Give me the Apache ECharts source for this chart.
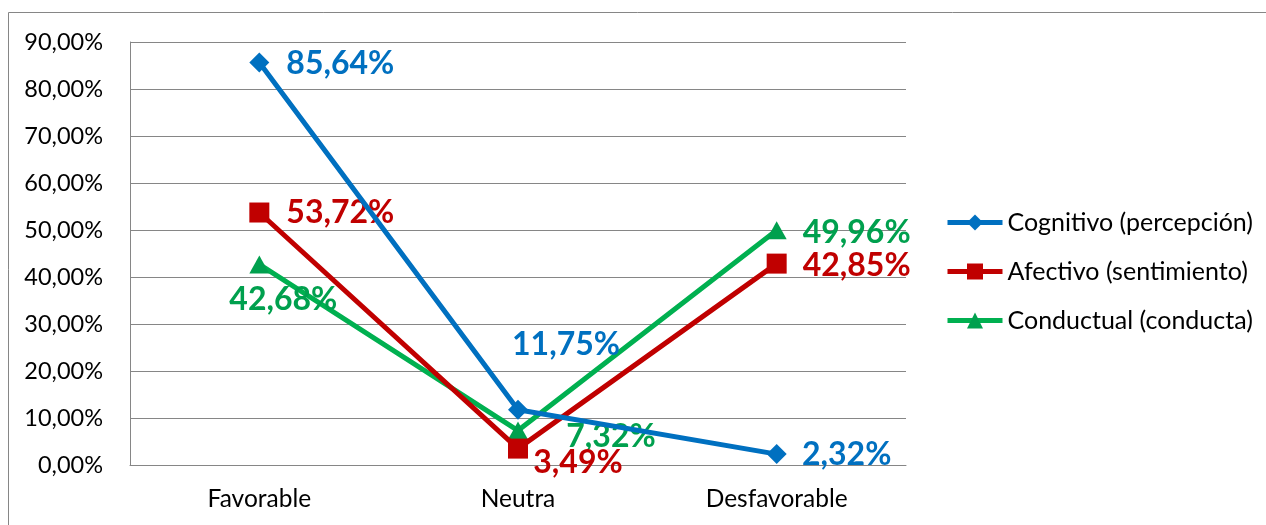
<!DOCTYPE html>
<html><head><meta charset="utf-8">
<script src="https://cdn.jsdelivr.net/npm/echarts@6/dist/echarts.min.js"></script>
<style>html,body{margin:0;padding:0;background:#fff}#c{width:1266px;height:525px}</style>
</head><body><div id="c"></div>
<script>
var categories = ['Favorable', 'Neutra', 'Desfavorable'];
var seriesNames = ['Cognitivo (percepción)', 'Afectivo (sentimiento)', 'Conductual (conducta)'];
var cognitivo = [85.64, 11.75, 2.32];
var afectivo = [53.72, 3.49, 42.85];
var conductual = [42.68, 7.32, 49.96];
var yTicks = [0, 10, 20, 30, 40, 50, 60, 70, 80, 90];

// label offsets (styling), per series per point
var labelOffsets = [
  [[81, 1], [48, -65], [70, 1]],
  [[81, 0], [60, 14], [80, 2]],
  [[24, 35], [93, 6], [80, 2]]
];
var lineColors = ['#0070C0', '#C00000', '#00B050'];
var markColors = ['#0070C0', '#C00000', '#00A04E'];
var labelColors = ['#0070C0', '#C00000', '#00A04E'];
var symbols = ['diamond', 'rect', 'triangle'];
var symbolSizes = [[20, 20], [20, 20], [20, 18]];
var values = [cognitivo, afectivo, conductual];

function fmt(v) { return v.toFixed(2).replace('.', ',') + '%'; }

var chart = echarts.init(document.getElementById('c'), null, {renderer: 'canvas'});
var series = values.map(function (vals, i) {
  return {
    name: seriesNames[i],
    type: 'line',
    data: vals.map(function (v, j) {
      return {
        value: v,
        label: {position: 'inside', offset: labelOffsets[i][j]}
      };
    }),
    symbol: symbols[i],
    symbolSize: symbolSizes[i],
    lineStyle: {color: lineColors[i], width: 5},
    itemStyle: {color: markColors[i]},
    color: lineColors[i],
    z: 3 - i,
    label: {
      show: true,
      formatter: function (p) { return fmt(p.value); },
      color: labelColors[i],
      fontFamily: 'Lato',
      fontWeight: 'bold',
      fontSize: 32
    },
    emphasis: {disabled: true},
    animation: false
  };
});

chart.setOption({
  animation: false,
  graphic: [{
    type: 'rect',
    shape: {x: 8.5, y: 12.5, width: 1300, height: 600},
    style: {fill: null, stroke: '#868686', lineWidth: 1},
    silent: true
  }],
  grid: {left: 130, right: 360, top: 42, bottom: 60, containLabel: false},
  legend: {
    orient: 'vertical',
    left: 940,
    top: 205,
    itemWidth: 55,
    itemHeight: 20,
    itemGap: 24,
    lineStyle: {width: 5},
    textStyle: {fontFamily: 'Lato', fontSize: 25, color: '#000'},
    data: seriesNames,
    selectedMode: false
  },
  xAxis: {
    type: 'category',
    data: categories,
    boundaryGap: true,
    axisLine: {lineStyle: {color: '#868686', width: 1}},
    axisTick: {show: false},
    axisLabel: {fontFamily: 'Lato', fontSize: 24.5, color: '#000', margin: 22}
  },
  yAxis: {
    type: 'value',
    min: yTicks[0],
    max: yTicks[yTicks.length - 1],
    interval: 10,
    axisLine: {show: true, lineStyle: {color: '#868686', width: 1}},
    axisTick: {show: false},
    splitLine: {lineStyle: {color: '#868686', width: 1}},
    axisLabel: {
      fontFamily: 'Lato', fontSize: 23.5, color: '#000', margin: 27,
      formatter: function (v) { return fmt(v); }
    }
  },
  series: series
});
</script></body></html>
